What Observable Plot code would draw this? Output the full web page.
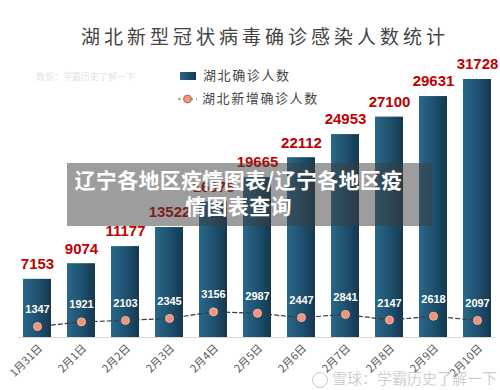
<!DOCTYPE html>
<html><head><meta charset="utf-8">
<script src="https://cdn.jsdelivr.net/npm/d3@7"></script>
<script src="https://cdn.jsdelivr.net/npm/@observablehq/plot@0.6"></script>
<style>
body{margin:0;background:#fff;}
#wrap{position:relative;width:500px;height:390px;overflow:hidden;font-family:"Noto Sans CJK SC","Noto Sans",sans-serif;}
#wrap > svg{position:absolute;left:0;top:0;}
.abs{position:absolute;white-space:nowrap;}
#title{left:0;width:530px;top:22px;text-align:center;font-size:19px;letter-spacing:4px;color:#444;}
.leg{font-size:13px;letter-spacing:1.6px;color:#444;line-height:16px;}
#overlay{left:67px;top:163px;width:365px;height:63px;background:rgba(60,60,60,0.5);color:#fff;font-weight:bold;font-size:21px;letter-spacing:0.3px;line-height:26px;text-align:center;padding:3px 26px 0 4px;box-sizing:border-box;white-space:normal;word-break:break-all;}
#wm1{left:36px;top:70px;font-size:9px;color:#e4e4e4;}
#wm2{left:312px;top:367px;font-size:15px;color:rgba(185,185,185,0.7);}
.logo{display:inline-block;width:16px;height:16px;border:1.5px solid rgba(185,185,185,0.7);border-radius:50%;vertical-align:middle;margin-right:4px;box-sizing:border-box;}
</style>
</head><body><div id="wrap"></div>
<script>
const dates = ["1月31日","2月1日","2月2日","2月3日","2月4日","2月5日","2月6日","2月7日","2月8日","2月9日","2月10日"];
const confirmed = [7153, 9074, 11177, 13522, 16678, 19665, 22112, 24953, 27100, 29631, 31728];
const newCases = [1347, 1921, 2103, 2345, 3156, 2987, 2447, 2841, 2147, 2618, 2097];
const titleText = "湖北新型冠状病毒确诊感染人数统计";
const legendLabels = ["湖北确诊人数", "湖北新增确诊人数"];
const overlayText = "辽宁各地区疫情图表/辽宁各地区疫情图表查询";
const sourceText = "数据：学霸历史了解一下";
const watermarkText = "雪球：学霸历史了解一下";

const data = dates.map((d, i) => ({date: d, total: confirmed[i], added: newCases[i]}));

const chart = Plot.plot({
  width: 500, height: 390,
  marginTop: 79, marginBottom: 53, marginLeft: 18, marginRight: 5,
  x: {domain: dates, paddingInner: 0.365, paddingOuter: 0.1, label: null},
  y: {domain: [0, 31728], axis: null},
  style: {fontFamily: "'Noto Sans CJK SC', sans-serif", background: "transparent"},
  marks: [
    Plot.ruleY([0], {stroke: "#d9d9d9"}),
    Plot.barY(data, {x: "date", y: "total", fill: "url(#barGrad)"}),
    Plot.lineY(data, {x: "date", y: "added", stroke: "#3a3a3a", strokeDasharray: "4,3", strokeWidth: 1.2}),
    Plot.dot(data, {x: "date", y: "added", r: 4, fill: "#f2937a", stroke: "#f6b5a3", strokeWidth: 1}),
    Plot.text(data, {x: "date", y: "total", text: d => String(d.total), dy: -15, fill: "#c00000", fontWeight: "bold", fontSize: 15, fontFamily: "Liberation Sans"}),
    Plot.text(data, {x: "date", y: "added", text: d => String(d.added), dy: -17, fill: "#ffffff", fontWeight: "bold", fontSize: 11, fontFamily: "Liberation Sans"}),
    Plot.axisX({tickRotate: -45, tickSize: 0, tickPadding: 9, fontSize: 11, fill: "#595959", label: null, dx: 3})
  ]
});

d3.select(chart).insert("defs", ":first-child").html(
  '<linearGradient id="barGrad" x1="0" x2="1" y1="0" y2="0">' +
  '<stop offset="0" stop-color="#2a6888"/><stop offset="0.5" stop-color="#1f5270"/><stop offset="1" stop-color="#143850"/></linearGradient>');

const wrap = document.getElementById("wrap");
wrap.appendChild(chart);

function add(id, cls, html, style) {
  const el = document.createElement("div");
  if (id) el.id = id;
  el.className = "abs " + (cls || "");
  el.innerHTML = html;
  if (style) el.setAttribute("style", style);
  wrap.appendChild(el);
  return el;
}
add("title", "", titleText);
add("wm1", "", sourceText);
add(null, "leg",
  '<span style="display:inline-block;width:16px;height:8px;background:linear-gradient(90deg,#2a6888,#143850);vertical-align:middle;margin-right:7px"></span>' + legendLabels[0],
  "left:180px;top:67px;");
add(null, "leg",
  '<svg width="19" height="10" style="vertical-align:middle;margin-right:5px"><line x1="0" x2="19" y1="5" y2="5" stroke="#555" stroke-dasharray="3,3"/><circle cx="9.5" cy="5" r="4" fill="#f2937a" stroke="#9a5a4a" stroke-width="0.8"/></svg>' + legendLabels[1],
  "left:178px;top:90px;");
add("overlay", "", overlayText);
add("wm2", "", '<span class="logo"></span>' + watermarkText);
</script>
</body></html>
